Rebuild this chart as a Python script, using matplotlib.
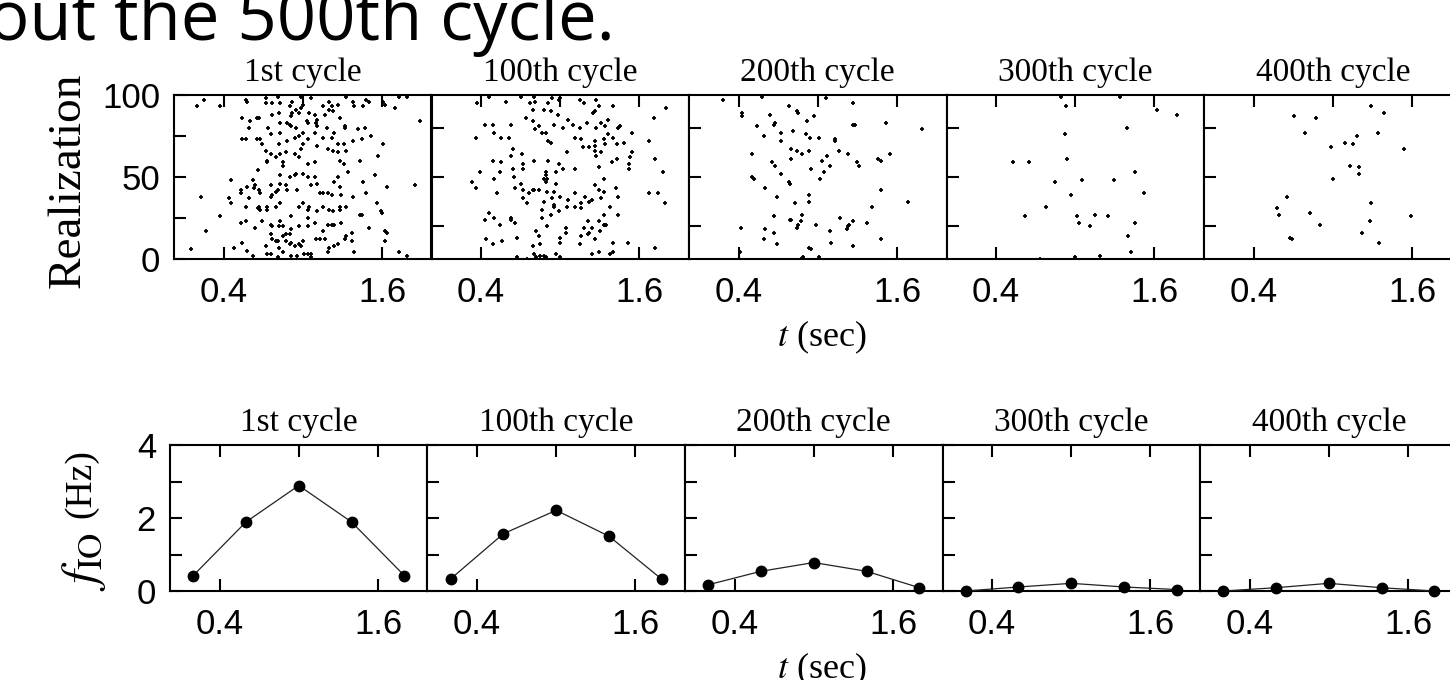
import numpy as np
import matplotlib
matplotlib.use('Agg')
import matplotlib.pyplot as plt

plt.rcParams['font.family'] = ['Liberation Sans', 'DejaVu Sans']
plt.rcParams['mathtext.fontset'] = 'stix'

# data
cycles = ['1st cycle', '100th cycle', '200th cycle', '300th cycle', '400th cycle']

# raster points (t in sec, realization index)
raster_1st = [
    (0.20, 93), (0.25, 97), (0.37, 93), (0.57, 97), (0.58, 96), (0.72, 98), (0.72, 95), (0.77, 95),
    (0.81, 99), (0.83, 95), (0.90, 93), (0.92, 96), (0.99, 99), (1.00, 94), (1.06, 98), (1.15, 93),
    (1.20, 96), (1.22, 93), (1.27, 94), (1.33, 99), (1.38, 96), (1.39, 93), (1.46, 93), (1.48, 97),
    (1.50, 96), (1.61, 96), (1.62, 94), (1.73, 99), (1.70, 92), (1.79, 99),
    (0.54, 86), (0.60, 84), (0.65, 86), (0.67, 86), (0.77, 88), (0.82, 89), (0.83, 83), (0.88, 83),
    (0.91, 87), (0.92, 89), (0.95, 91), (0.97, 89), (0.99, 92), (1.03, 84), (1.05, 89), (1.09, 88),
    (1.11, 85), (1.10, 83), (1.17, 88), (1.20, 91), (1.23, 90), (1.28, 86), (1.32, 81), (1.89, 84),
    (0.59, 80), (0.74, 80), (0.76, 76), (0.83, 77), (0.90, 82), (0.91, 81), (0.95, 80), (1.00, 77),
    (1.04, 83), (1.09, 77), (1.11, 81), (1.18, 80), (1.24, 77), (1.32, 80), (1.42, 79), (1.47, 80),
    (1.52, 75), (0.54, 73), (0.57, 73), (0.65, 73), (0.68, 73), (0.69, 70), (0.82, 70), (0.88, 72),
    (0.94, 74), (0.97, 75), (1.00, 70), (1.04, 73), (1.11, 69), (1.15, 74), (1.19, 67), (1.22, 74),
    (1.27, 70), (1.31, 70), (1.38, 72), (1.45, 73), (1.61, 70),
    (0.72, 66), (0.76, 64), (0.80, 62), (0.83, 64), (0.87, 65), (0.94, 64), (0.97, 62), (0.99, 67),
    (1.04, 58), (1.09, 59), (1.23, 66), (1.27, 65), (1.33, 66), (1.28, 60), (1.31, 58), (1.43, 60),
    (1.57, 63), (0.73, 60), (0.73, 59), (0.85, 57), (0.85, 59), (0.66, 54), (0.83, 51),
    (0.46, 48), (0.53, 42), (0.53, 40), (0.58, 44), (0.62, 48), (0.63, 43), (0.64, 45), (0.67, 42),
    (0.68, 40), (0.76, 45), (0.76, 38), (0.77, 39), (0.80, 41), (0.81, 42), (0.83, 46), (0.87, 45),
    (0.88, 42), (0.95, 52), (0.96, 42), (1.00, 52), (1.04, 50), (1.06, 45), (1.09, 50), (1.11, 46),
    (1.13, 40), (1.15, 40), (1.19, 40), (1.22, 39), (1.24, 47), (1.27, 50), (1.28, 44), (1.29, 39),
    (1.34, 53), (1.38, 38), (1.46, 47), (1.48, 40), (1.55, 51), (1.64, 44), (1.85, 45), (0.23, 38),
    (0.90, 50), (0.94, 51),
    (0.44, 37), (0.46, 34), (0.57, 32), (0.59, 37), (0.66, 31), (0.67, 32), (0.68, 30), (0.73, 32),
    (0.73, 30), (0.80, 32), (0.83, 34), (0.91, 26), (0.97, 32), (1.00, 34), (1.04, 30), (1.05, 32),
    (1.11, 29), (1.15, 32), (1.20, 30), (1.23, 29), (1.28, 32), (1.28, 30), (1.33, 32), (1.45, 27),
    (1.56, 34), (1.59, 29), (1.60, 28), (0.37, 26),
    (0.53, 22), (0.57, 23), (0.64, 19), (0.69, 23), (0.76, 21), (0.77, 20), (0.82, 20), (0.83, 23),
    (0.85, 20), (0.87, 15), (0.90, 15), (0.91, 18), (0.97, 20), (1.04, 20), (1.04, 25), (1.09, 22),
    (1.15, 17), (1.19, 21), (1.22, 21), (1.24, 21), (1.29, 22), (1.33, 14), (1.37, 16), (1.43, 27),
    (1.50, 19), (1.62, 17), (1.64, 16), (0.27, 17),
    (0.54, 10), (0.58, 5), (0.62, 2), (0.72, 8), (0.76, 15), (0.77, 12), (0.80, 11), (0.81, 11),
    (0.82, 7), (0.85, 14), (0.87, 11), (0.90, 9), (0.91, 10), (0.94, 8), (0.97, 9), (0.99, 8),
    (1.00, 11), (1.01, 3), (1.04, 3), (1.06, 3), (1.10, 12), (1.13, 12), (1.17, 12), (1.19, 4),
    (1.20, 7), (1.24, 8), (1.27, 9), (1.32, 12), (1.37, 11), (1.39, 4), (1.62, 11), (1.73, 4),
    (1.79, 2), (0.15, 6), (0.48, 7), (0.73, 3), (0.76, 3), (0.81, 1), (0.85, 4), (0.91, 2),
    (0.96, 2), (1.06, 1),
]

raster_100th = [
    (0.37, 95), (0.46, 99), (0.59, 96), (0.70, 99), (0.77, 95), (0.80, 99), (0.81, 96), (0.91, 95),
    (0.94, 98), (0.99, 97), (1.00, 98), (1.15, 97), (1.18, 95), (1.27, 97), (1.29, 93), (1.26, 90),
    (1.25, 89), (1.40, 93), (0.88, 91), (0.93, 90), (0.98, 88), (0.79, 91), (1.80, 92), (1.71, 86),
    (0.43, 82), (0.49, 82), (0.50, 77), (0.63, 82), (0.74, 86), (0.79, 84), (0.84, 81), (0.81, 79),
    (0.86, 77), (0.89, 77), (0.95, 82), (1.02, 80), (1.06, 85), (1.10, 82), (1.15, 80), (1.20, 83),
    (1.27, 80), (1.31, 83), (1.36, 85), (1.34, 81), (1.44, 80), (1.45, 81), (1.36, 76), (1.54, 77),
    (0.36, 74), (0.55, 74), (0.61, 74), (0.91, 72), (0.93, 71), (1.11, 74), (1.16, 73), (1.17, 68),
    (1.22, 68), (1.26, 72), (1.33, 73), (1.34, 70), (1.40, 74), (1.43, 70), (1.48, 71), (1.67, 72),
    (0.64, 67), (0.63, 63), (0.71, 64), (0.72, 58), (0.72, 55), (0.80, 60), (0.91, 60), (0.99, 58),
    (1.02, 55), (0.97, 53), (0.89, 53), (0.89, 51), (1.05, 65), (1.11, 55), (1.26, 66), (1.27, 63),
    (1.31, 65), (1.26, 69), (1.29, 56), (1.39, 59), (1.43, 61), (1.52, 58), (1.52, 55), (1.53, 62),
    (1.54, 65), (1.72, 61), (1.78, 53), (0.49, 60), (0.55, 59), (0.54, 53), (0.39, 53), (0.64, 55),
    (0.65, 50),
    (0.33, 47), (0.36, 43), (0.50, 49), (0.52, 40), (0.66, 43), (0.70, 46), (0.72, 42), (0.76, 40),
    (0.79, 42), (0.80, 42), (0.84, 42), (0.88, 49), (0.90, 49), (0.89, 47), (0.97, 46), (0.90, 41),
    (0.95, 41), (1.00, 38), (0.94, 37), (0.88, 35), (0.72, 37), (0.75, 34), (1.06, 36), (1.11, 40),
    (1.19, 38), (1.24, 36), (1.26, 45), (1.29, 42), (1.33, 49), (1.31, 37), (1.33, 41), (1.42, 43),
    (1.44, 38), (1.67, 40), (1.74, 40), (1.79, 34),
    (0.86, 30), (0.95, 33), (0.95, 32), (0.86, 25), (0.93, 27), (0.99, 29), (1.05, 32), (1.11, 32),
    (1.16, 34), (1.16, 31), (1.22, 35), (1.38, 32), (1.44, 27), (0.46, 28), (0.43, 24), (0.50, 25),
    (0.54, 21), (0.63, 25), (0.63, 24), (0.66, 22), (0.90, 20), (1.04, 19), (1.18, 19), (1.21, 23),
    (1.24, 19), (1.29, 23), (1.33, 21), (1.34, 21), (1.35, 21), (1.33, 27),
    (0.44, 12), (0.49, 9), (0.56, 11), (0.67, 13), (0.79, 8), (0.82, 17), (0.84, 14), (0.85, 9),
    (1.00, 13), (1.00, 10), (1.04, 16), (1.15, 9), (1.16, 14), (1.21, 15), (1.22, 16), (1.26, 12),
    (1.30, 17), (1.40, 10), (1.51, 10), (1.72, 7), (0.67, 1), (0.75, 0), (0.80, 3), (0.82, 1),
    (0.85, 2), (0.88, 2), (0.89, 1), (0.97, 3), (1.00, 1), (1.24, 3), (1.29, 4), (1.38, 3),
    (1.40, 4),
]

raster_200th = [
    (0.28, 97), (0.58, 99), (0.78, 93), (0.84, 90), (0.85, 89), (0.97, 87), (0.92, 84), (1.06, 98),
    (1.27, 95), (0.43, 89), (0.43, 87), (0.64, 88), (0.54, 81), (0.67, 82), (0.68, 83), (0.59, 75),
    (0.72, 77), (0.81, 78), (0.91, 76), (0.94, 74), (1.01, 74), (1.13, 73), (1.13, 72), (1.27, 82),
    (1.28, 82), (1.52, 83), (1.79, 79), (0.72, 72), (0.80, 67), (0.84, 66), (0.88, 64), (0.93, 66),
    (0.80, 61), (0.50, 64), (0.65, 59), (0.68, 57), (1.03, 60), (1.07, 63), (1.16, 66), (1.23, 64),
    (1.09, 57), (0.95, 55), (1.05, 53), (1.02, 49), (0.72, 52), (0.50, 50), (0.52, 49), (0.78, 47),
    (0.79, 46), (1.30, 59), (1.31, 57), (1.46, 61), (1.48, 60), (1.55, 64), (0.60, 43), (0.69, 38),
    (0.93, 39), (0.93, 35), (0.83, 34), (1.48, 42), (1.68, 35), (1.41, 32), (0.67, 26), (0.79, 24),
    (0.80, 24), (0.88, 27), (0.87, 23), (0.85, 21), (0.84, 19), (0.99, 21), (1.17, 25), (1.24, 21),
    (1.23, 20), (1.22, 18), (1.27, 23), (1.37, 22), (0.42, 19), (0.60, 18), (0.67, 16), (0.59, 12),
    (1.09, 17), (1.10, 10), (0.69, 9), (0.93, 7), (0.95, 6), (1.27, 8), (1.48, 12), (0.89, 1),
    (0.87, 0), (1.01, 1), (0.41, 4),
]

raster_300th = [
    (0.89, 99), (0.93, 93), (1.34, 99), (1.62, 91), (1.77, 88), (1.39, 80), (0.92, 76), (0.53, 59),
    (0.65, 59), (0.94, 61), (1.45, 53), (0.85, 47), (1.05, 48), (1.29, 48), (0.97, 39), (1.52, 40),
    (0.78, 32), (0.62, 26), (1.01, 26), (1.03, 22), (1.15, 27), (1.25, 26), (1.11, 20), (1.45, 22),
    (1.40, 14), (1.42, 4), (0.73, 0), (1.00, 1), (1.19, 2),
]

raster_400th = [
    (0.71, 87), (0.87, 86), (0.79, 77), (0.99, 68), (1.09, 71), (1.15, 70), (1.18, 75), (1.29, 93),
    (1.39, 89), (1.34, 77), (1.54, 67), (1.13, 57), (1.20, 56), (1.20, 52), (1.00, 49), (0.65, 38),
    (0.58, 31), (0.59, 27), (0.83, 28), (0.90, 21), (1.29, 34), (1.28, 23), (1.22, 16), (1.35, 10),
    (1.59, 26), (0.68, 13), (0.69, 12),
]

# firing rate per time bin
t_bins = [0.2, 0.6, 1.0, 1.4, 1.8]
f_io_1st = [0.42, 1.89, 2.89, 1.89, 0.42]
f_io_100th = [0.33, 1.57, 2.21, 1.50, 0.32]
f_io_200th = [0.17, 0.54, 0.78, 0.54, 0.09]
f_io_300th = [0.0, 0.11, 0.21, 0.11, 0.04]
f_io_400th = [0.0, 0.09, 0.21, 0.09, 0.0]

rasters = [raster_1st, raster_100th, raster_200th, raster_300th, raster_400th]
rates = [f_io_1st, f_io_100th, f_io_200th, f_io_300th, f_io_400th]

W, H = 1450, 680
fig = plt.figure(figsize=(W / 100, H / 100), dpi=100)


def style_axes(ax):
    for sp in ax.spines.values():
        sp.set_linewidth(1.5)
    ax.set_xlim(0.025, 1.975)
    ax.set_xticks([0.4, 1.6])
    ax.set_xticklabels(['0.4', '1.6'])
    ax.set_xticks([1.0], minor=True)
    ax.tick_params(axis='x', which='major', direction='in', top=True, bottom=True,
                   length=8.5, width=1.5, labelsize=25, pad=12)
    ax.tick_params(axis='x', which='minor', direction='in', top=True, bottom=False,
                   length=8.5, width=1.5)
    ax.tick_params(axis='y', which='both', direction='in', left=True, right=False,
                   length=8.5, width=1.5, labelsize=25, pad=10)


panel_w = 257.5
serif = 'Liberation Serif'

# raster row
for k in range(5):
    ax = fig.add_axes([(174 + panel_w * k) / W, 1 - 259 / H, panel_w / W, 164 / H])
    pts = np.array(rasters[k])
    ax.scatter(pts[:, 0], pts[:, 1], marker='+', s=9, linewidths=1.3, color='black')
    ax.set_ylim(0, 100)
    style_axes(ax)
    if k == 0:
        ax.set_yticks([0, 50, 100])
        ax.set_yticks([25, 75], minor=True)
    else:
        ax.set_yticks([20, 50, 80])
        ax.set_yticklabels([])
    ax.set_title(cycles[k], fontsize=24, family=serif, pad=10)

# rate row
for k in range(5):
    ax = fig.add_axes([(170 + panel_w * k) / W, 1 - 591 / H, panel_w / W, 146 / H])
    ax.plot(t_bins, rates[k], color='#222222', lw=0.9, marker='o', ms=7.5,
            mfc='black', mec='black', clip_on=False, zorder=3)
    ax.set_ylim(0, 4)
    style_axes(ax)
    ax.set_yticks([0, 2, 4])
    ax.set_yticks([1, 3], minor=True)
    if k > 0:
        ax.set_yticklabels([])
    ax.set_title(cycles[k], fontsize=24, family=serif, pad=10)

# axis labels
fig.text(68 / W, 1 - 180 / H, 'Realization', rotation=90, ha='center', va='center',
         fontsize=34, family=serif)
fig.text(81 / W, 1 - 484 / H, '(Hz)', rotation=90, ha='center', va='center',
         fontsize=27, family=serif)
fig.text(84 / W, 1 - 561 / H, r'$f_{\mathrm{IO}}$', rotation=90, ha='center', va='center',
         fontsize=36)
fig.text(822 / W, 1 - 346 / H, r'$t$ (sec)', ha='center', va='baseline',
         fontsize=26, family=serif)
fig.text(822 / W, 1 - 678 / H, r'$t$ (sec)', ha='center', va='baseline',
         fontsize=26, family=serif)

# slide text cut at top
fig.text(-12 / W, 1 - 40 / H, 'out the 500th cycle.', ha='left', va='baseline',
         fontsize=49.5, family='Open Sans')

fig.savefig('out.png', dpi=100)
